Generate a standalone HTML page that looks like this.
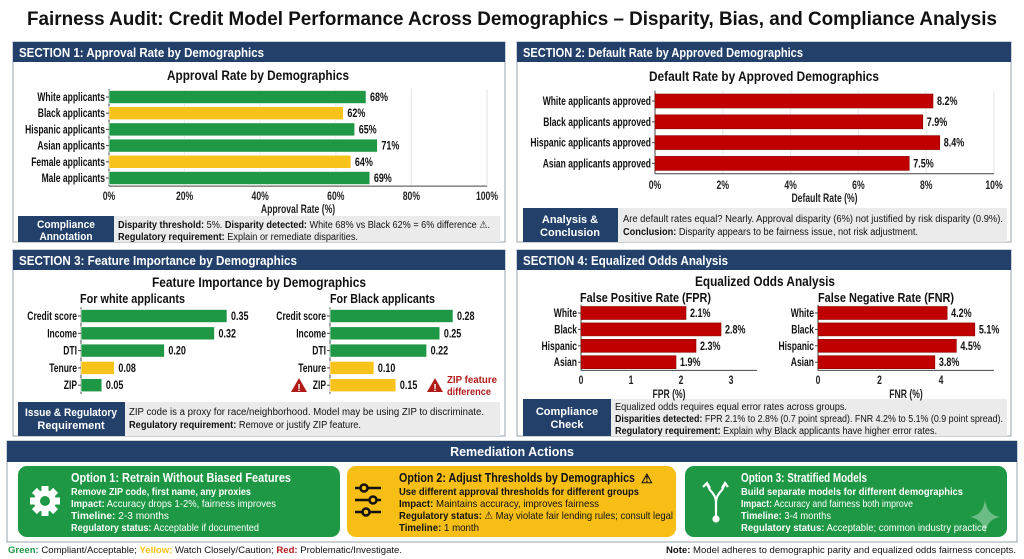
<!DOCTYPE html>
<html><head><meta charset="utf-8"><style>
html,body{margin:0;padding:0;background:#fff;}
svg{display:block;font-family:"Liberation Sans",sans-serif;}
.b{font-weight:bold;}
</style></head><body>
<svg id="root" width="1024" height="559" viewBox="0 0 1024 559" xmlns="http://www.w3.org/2000/svg">
<rect width="1024" height="559" fill="#fff"/>
<text x="512" y="25" text-anchor="middle" class="b" font-size="19" fill="#111" textLength="970" lengthAdjust="spacingAndGlyphs">Fairness Audit: Credit Model Performance Across Demographics – Disparity, Bias, and Compliance Analysis</text>

<g>
<rect x="13" y="42" width="492" height="200" fill="#fff" stroke="#9aa3ad"/>
<rect x="13" y="42" width="492" height="20" fill="#22406a"/>
<text x="19" y="57" fill="#fff" class="b" font-size="13" textLength="245" lengthAdjust="spacingAndGlyphs">SECTION 1: Approval Rate by Demographics</text>
<text x="258" y="80" text-anchor="middle" class="b" font-size="13.5" fill="#111" textLength="182" lengthAdjust="spacingAndGlyphs">Approval Rate by Demographics</text>
<rect x="18" y="216" width="96" height="26" fill="#22406a"/>
<text x="66" y="228" text-anchor="middle" fill="#fff" class="b" font-size="11" textLength="58" lengthAdjust="spacingAndGlyphs">Compliance</text>
<text x="66" y="240" text-anchor="middle" fill="#fff" class="b" font-size="11" textLength="53" lengthAdjust="spacingAndGlyphs">Annotation</text>
<rect x="114" y="216" width="386" height="26" fill="#ebebeb"/>
<text x="118" y="228" font-size="10" fill="#111" textLength="372" lengthAdjust="spacingAndGlyphs"><tspan class="b">Disparity threshold:</tspan> 5%. <tspan class="b">Disparity detected:</tspan> White 68% vs Black 62% = 6% difference ⚠.</text>
<text x="118" y="240" font-size="10" fill="#111" textLength="240" lengthAdjust="spacingAndGlyphs"><tspan class="b">Regulatory requirement:</tspan> Explain or remediate disparities.</text>
</g>

<g>
<rect x="517" y="42" width="494" height="200" fill="#fff" stroke="#9aa3ad"/>
<rect x="517" y="42" width="494" height="20" fill="#22406a"/>
<text x="523" y="57" fill="#fff" class="b" font-size="13" textLength="280" lengthAdjust="spacingAndGlyphs">SECTION 2: Default Rate by Approved Demographics</text>
<text x="764" y="81" text-anchor="middle" class="b" font-size="13.5" fill="#111" textLength="230" lengthAdjust="spacingAndGlyphs">Default Rate by Approved Demographics</text>
<rect x="523" y="208" width="95" height="34" fill="#22406a"/>
<text x="570" y="223" text-anchor="middle" fill="#fff" class="b" font-size="11">Analysis &amp;</text>
<text x="570" y="236" text-anchor="middle" fill="#fff" class="b" font-size="11">Conclusion</text>
<rect x="618" y="208" width="389" height="34" fill="#ebebeb"/>
<text x="623" y="222" font-size="10" fill="#111" textLength="380" lengthAdjust="spacingAndGlyphs">Are default rates equal? Nearly. Approval disparity (6%) not justified by risk disparity (0.9%).</text>
<text x="623" y="235" font-size="10" fill="#111" textLength="295" lengthAdjust="spacingAndGlyphs"><tspan class="b">Conclusion:</tspan> Disparity appears to be fairness issue, not risk adjustment.</text>
</g>

<g>
<rect x="13" y="250" width="492" height="186" fill="#fff" stroke="#9aa3ad"/>
<rect x="13" y="250" width="492" height="20" fill="#22406a"/>
<text x="19" y="265" fill="#fff" class="b" font-size="13" textLength="278" lengthAdjust="spacingAndGlyphs">SECTION 3: Feature Importance by Demographics</text>
<text x="259" y="287" text-anchor="middle" class="b" font-size="13.5" fill="#111" textLength="214" lengthAdjust="spacingAndGlyphs">Feature Importance by Demographics</text>
<text x="80" y="303" class="b" font-size="12.5" fill="#111" textLength="105" lengthAdjust="spacingAndGlyphs">For white applicants</text>
<text x="330" y="303" class="b" font-size="12.5" fill="#111" textLength="105" lengthAdjust="spacingAndGlyphs">For Black applicants</text>
<g><polygon points="299,378 291,392 307,392" fill="#b31b1b"/><text x="299" y="391" text-anchor="middle" fill="#fff" class="b" font-size="10">!</text></g>
<g><polygon points="435,378 427,392 443,392" fill="#b31b1b"/><text x="435" y="391" text-anchor="middle" fill="#fff" class="b" font-size="10">!</text></g>
<text x="447" y="383" class="b" font-size="10.5" fill="#b31b1b" textLength="50" lengthAdjust="spacingAndGlyphs">ZIP feature</text>
<text x="447" y="395" class="b" font-size="10.5" fill="#b31b1b" textLength="44" lengthAdjust="spacingAndGlyphs">difference</text>
<rect x="18" y="402" width="107" height="34" fill="#22406a"/>
<text x="71" y="416" text-anchor="middle" fill="#fff" class="b" font-size="11" textLength="92" lengthAdjust="spacingAndGlyphs">Issue &amp; Regulatory</text>
<text x="71" y="429" text-anchor="middle" fill="#fff" class="b" font-size="11">Requirement</text>
<rect x="125" y="402" width="375" height="34" fill="#ebebeb"/>
<text x="129" y="415" font-size="10" fill="#111" textLength="355" lengthAdjust="spacingAndGlyphs">ZIP code is a proxy for race/neighborhood. Model may be using ZIP to discriminate.</text>
<text x="129" y="428" font-size="10" fill="#111" textLength="232" lengthAdjust="spacingAndGlyphs"><tspan class="b">Regulatory requirement:</tspan> Remove or justify ZIP feature.</text>
</g>

<g>
<rect x="517" y="250" width="494" height="186" fill="#fff" stroke="#9aa3ad"/>
<rect x="517" y="250" width="494" height="20" fill="#22406a"/>
<text x="523" y="265" fill="#fff" class="b" font-size="13" textLength="205" lengthAdjust="spacingAndGlyphs">SECTION 4: Equalized Odds Analysis</text>
<text x="765" y="286" text-anchor="middle" class="b" font-size="13.5" fill="#111" textLength="140" lengthAdjust="spacingAndGlyphs">Equalized Odds Analysis</text>
<text x="580" y="302" class="b" font-size="12.5" fill="#111" textLength="131" lengthAdjust="spacingAndGlyphs">False Positive Rate (FPR)</text>
<text x="818" y="302" class="b" font-size="12.5" fill="#111" textLength="136" lengthAdjust="spacingAndGlyphs">False Negative Rate (FNR)</text>
<rect x="523" y="399" width="88" height="37" fill="#22406a"/>
<text x="567" y="415" text-anchor="middle" fill="#fff" class="b" font-size="11">Compliance</text>
<text x="567" y="428" text-anchor="middle" fill="#fff" class="b" font-size="11">Check</text>
<rect x="611" y="399" width="396" height="37" fill="#ebebeb"/>
<text x="615" y="410" font-size="10" fill="#111" textLength="232" lengthAdjust="spacingAndGlyphs">Equalized odds requires equal error rates across groups.</text>
<text x="615" y="422" font-size="10" fill="#111" textLength="388" lengthAdjust="spacingAndGlyphs"><tspan class="b">Disparities detected:</tspan> FPR 2.1% to 2.8% (0.7 point spread). FNR 4.2% to 5.1% (0.9 point spread).</text>
<text x="615" y="434" font-size="10" fill="#111" textLength="322" lengthAdjust="spacingAndGlyphs"><tspan class="b">Regulatory requirement:</tspan> Explain why Black applicants have higher error rates.</text>
</g>

<g>
<rect x="7" y="441" width="1010" height="101" fill="#fff" stroke="#9aa3ad"/>
<rect x="7" y="441" width="1010" height="21" fill="#22406a"/>
<text x="512" y="456" text-anchor="middle" fill="#fff" class="b" font-size="12.5">Remediation Actions</text>
</g>
<g>
<rect x="18" y="466" width="322" height="71" rx="9" fill="#1e9845"/>
<g transform="translate(45,501)">
<g fill="#fff"><rect x="-3.5" y="-15" width="7" height="30"/><rect x="-3.5" y="-15" width="7" height="30" transform="rotate(45)"/><rect x="-3.5" y="-15" width="7" height="30" transform="rotate(90)"/><rect x="-3.5" y="-15" width="7" height="30" transform="rotate(135)"/><circle r="11"/></g><circle r="5" fill="#1e9845"/></g>
<g fill="#fff" font-size="10.5">
<text x="71" y="482" class="b" font-size="12.5" textLength="220" lengthAdjust="spacingAndGlyphs">Option 1: Retrain Without Biased Features</text>
<text x="71" y="495" class="b" textLength="180" lengthAdjust="spacingAndGlyphs">Remove ZIP code, first name, any proxies</text>
<text x="71" y="507" textLength="205" lengthAdjust="spacingAndGlyphs"><tspan class="b">Impact:</tspan> Accuracy drops 1-2%, fairness improves</text>
<text x="71" y="519" textLength="98" lengthAdjust="spacingAndGlyphs"><tspan class="b">Timeline:</tspan> 2-3 months</text>
<text x="71" y="531" textLength="188" lengthAdjust="spacingAndGlyphs"><tspan class="b">Regulatory status:</tspan> Acceptable if documented</text>
</g></g>
<g>
<rect x="347" y="466" width="329" height="71" rx="9" fill="#f7bf16"/>
<g stroke="#111" stroke-width="2.5" fill="#f7bf16">
<line x1="355" y1="488" x2="381" y2="488"/><circle cx="364" cy="488" r="3.5"/>
<line x1="355" y1="500" x2="381" y2="500"/><circle cx="373" cy="500" r="3.5"/>
<line x1="355" y1="512" x2="381" y2="512"/><circle cx="366" cy="512" r="3.5"/></g>
<g fill="#111" font-size="10.5">
<text x="399" y="482" class="b" font-size="12.5" textLength="236" lengthAdjust="spacingAndGlyphs">Option 2: Adjust Thresholds by Demographics</text>
<text x="641" y="483" font-size="13" class="b">⚠</text>
<text x="399" y="495" class="b" textLength="240" lengthAdjust="spacingAndGlyphs">Use different approval thresholds for different groups</text>
<text x="399" y="507" textLength="200" lengthAdjust="spacingAndGlyphs"><tspan class="b">Impact:</tspan> Maintains accuracy, improves fairness</text>
<text x="399" y="519" textLength="274" lengthAdjust="spacingAndGlyphs"><tspan class="b">Regulatory status:</tspan> ⚠ May violate fair lending rules; consult legal</text>
<text x="399" y="531" textLength="80" lengthAdjust="spacingAndGlyphs"><tspan class="b">Timeline:</tspan> 1 month</text>
</g></g>
<g>
<rect x="685" y="466" width="322" height="71" rx="9" fill="#1e9845"/>
<g stroke="#fff" stroke-width="2.2" fill="none">
<path d="M716 517 L716 502 Q716 496 710 490 L707 484"/><path d="M716 502 Q716 496 722 490 L725 484"/>
<path d="M703 487 L707 483 L710 488"/><path d="M722 488 L725 483 L728 487"/><circle cx="716" cy="519" r="2.5" fill="#fff"/></g>
<g fill="#fff" font-size="10.5">
<text x="741" y="482" class="b" font-size="12.5" textLength="126" lengthAdjust="spacingAndGlyphs">Option 3: Stratified Models</text>
<text x="741" y="495" class="b" textLength="222" lengthAdjust="spacingAndGlyphs">Build separate models for different demographics</text>
<text x="741" y="507" textLength="172" lengthAdjust="spacingAndGlyphs"><tspan class="b">Impact:</tspan> Accuracy and fairness both improve</text>
<text x="741" y="519" textLength="90" lengthAdjust="spacingAndGlyphs"><tspan class="b">Timeline:</tspan> 3-4 months</text>
<text x="741" y="531" textLength="246" lengthAdjust="spacingAndGlyphs"><tspan class="b">Regulatory status:</tspan> Acceptable; common industry practice</text>
</g>
<path d="M985 500 Q987 515 1000 517 Q987 519 985 534 Q983 519 970 517 Q983 515 985 500Z" fill="#fff" opacity="0.35"/>
</g>
<text x="8" y="553" font-size="9.5" fill="#111" textLength="394" lengthAdjust="spacingAndGlyphs"><tspan class="b" fill="#1e9845">Green:</tspan> Compliant/Acceptable; <tspan class="b" fill="#f7bf16">Yellow:</tspan> Watch Closely/Caution; <tspan class="b" fill="#b31b1b">Red:</tspan> Problematic/Investigate.</text>
<text x="1016" y="553" text-anchor="end" font-size="9.5" fill="#111" textLength="350" lengthAdjust="spacingAndGlyphs"><tspan class="b">Note:</tspan> Model adheres to demographic parity and equalized odds fairness concepts.</text>
<g id="charts"></g>
</svg>
<script>
// Chart 1: approval rate
const approvalCategories = ["White applicants","Black applicants","Hispanic applicants","Asian applicants","Female applicants","Male applicants"];
const approvalValues = [68,62,65,71,64,69];
const approvalStatus = ["g","y","g","g","y","g"];
const approvalTicks = [0,20,40,60,80,100];
// Chart 2: default rate
const defaultCategories = ["White applicants approved","Black applicants approved","Hispanic applicants approved","Asian applicants approved"];
const defaultValues = [8.2,7.9,8.4,7.5];
const defaultTicks = [0,2,4,6,8,10];
// Chart 3: feature importance
const featureCategories = ["Credit score","Income","DTI","Tenure","ZIP"];
const whiteImportance = [0.35,0.32,0.20,0.08,0.05];
const whiteStatus = ["g","g","g","y","g"];
const blackImportance = [0.28,0.25,0.22,0.10,0.15];
const blackStatus = ["g","g","g","y","y"];
// Chart 4: equalized odds
const oddsCategories = ["White","Black","Hispanic","Asian"];
const fprValues = [2.1,2.8,2.3,1.9];
const fnrValues = [4.2,5.1,4.5,3.8];
const fprTicks = [0,1,2,3];
const fnrTicks = [0,2,4];

const NS="http://www.w3.org/2000/svg";
const root=document.getElementById("charts");
const COL={g:"#1e9845",y:"#f7c21a",r:"#c00000"};
function mk(tag,attrs,parent){const e=document.createElementNS(NS,tag);for(const k in attrs)e.setAttribute(k,attrs[k]);(parent||root).appendChild(e);return e;}
function condense(el,f){try{const w=el.getComputedTextLength();if(w>0){el.setAttribute("textLength",(w*f).toFixed(1));el.setAttribute("lengthAdjust","spacingAndGlyphs");}}catch(e){}}

function chart(cfg){
  const g=mk("g",{});
  
  
  const xs=v=>cfg.x0+(v-cfg.min)/(cfg.max-cfg.min)*(cfg.x1-cfg.x0);
  const ys=i=>cfg.y0+i*cfg.step;
  const top=ys(0)-cfg.step/2, bot=ys(cfg.cats.length-1)+cfg.step/2;
  if(cfg.ticks){
    cfg.ticks.forEach(t=>{
      if(cfg.grid) mk("line",{x1:xs(t),x2:xs(t),y1:top,y2:bot,stroke:"#e6e6e6","stroke-width":1},g);
      const tl=mk("text",{x:xs(t),y:cfg.tickY,"text-anchor":"middle","font-size":11.5,"font-weight":"bold",fill:"#222"},g);
      
      
      tl.textContent=t+(cfg.tickSuffix||"");
      condense(tl,0.75);
    });
    mk("line",{x1:cfg.x0,x2:cfg.axisEnd||cfg.x1,y1:bot,y2:bot,stroke:"#444","stroke-width":1},g);
    const at=mk("text",{x:(cfg.x0+(cfg.axisEnd||cfg.x1))/2,y:cfg.titleY,"text-anchor":"middle","font-size":11.5,"font-weight":"bold",fill:"#222"},g);
    
    
    at.textContent=cfg.axisTitle;
    condense(at,0.75);
  }
  mk("line",{x1:cfg.x0,x2:cfg.x0,y1:top,y2:bot,stroke:"#444","stroke-width":1},g);
  cfg.cats.forEach((c,i)=>{
    const y=ys(i),v=cfg.vals[i];
    const col=COL[cfg.status?cfg.status[i]:"r"];
    const bar=mk("rect",{x:cfg.x0,y:y-cfg.bh/2,width:xs(v)-cfg.x0,height:cfg.bh,fill:col,stroke:cfg.status?"#fff":"#8a0000","stroke-width":0.6},g);
    
    
    mk("line",{x1:cfg.x0-3,x2:cfg.x0,y1:y,y2:y,stroke:"#444"},g);
    const lb=mk("text",{x:cfg.x0-4,y:y+4,"text-anchor":"end","font-size":11.5,"font-weight":"bold",fill:"#111"},g);
    
    
    lb.textContent=c;
    condense(lb,0.74);
    const vl=mk("text",{x:xs(v)+4,y:y+4,"font-size":11.5,"font-weight":"bold",fill:"#111"},g);
    
    
    vl.textContent=cfg.fmt(v);
    condense(vl,0.78);
  });
}
chart({name:"approval-rate-chart",cats:approvalCategories,vals:approvalValues,status:approvalStatus,min:0,max:100,x0:109,x1:487,y0:97,step:16.2,bh:13,ticks:approvalTicks,tickSuffix:"%",tickY:200,titleY:213,axisTitle:"Approval Rate (%)",grid:true,fmt:v=>v+"%"});
chart({name:"default-rate-chart",cats:defaultCategories,vals:defaultValues,min:0,max:10,x0:655,x1:994,y0:101,step:20.8,bh:14,ticks:defaultTicks,tickSuffix:"%",tickY:189,titleY:202,axisTitle:"Default Rate (%)",grid:true,fmt:v=>v.toFixed(1)+"%"});
chart({name:"feature-importance-white-chart",cats:featureCategories,vals:whiteImportance,status:whiteStatus,min:0,max:0.35,x0:81,x1:227,y0:316,step:17.3,bh:13,fmt:v=>v.toFixed(2)});
chart({name:"feature-importance-black-chart",cats:featureCategories,vals:blackImportance,status:blackStatus,min:0,max:0.28,x0:330,x1:453,y0:316,step:17.3,bh:13,fmt:v=>v.toFixed(2)});
chart({name:"fpr-chart",cats:oddsCategories,vals:fprValues,min:0,max:3,x0:581,x1:731,axisEnd:757,y0:313,step:16.4,bh:13,ticks:fprTicks,tickY:384,titleY:398,axisTitle:"FPR (%)",fmt:v=>v.toFixed(1)+"%"});
chart({name:"fnr-chart",cats:oddsCategories,vals:fnrValues,min:0,max:4,x0:818,x1:941,axisEnd:994,y0:313,step:16.4,bh:13,ticks:fnrTicks,tickY:384,titleY:398,axisTitle:"FNR (%)",fmt:v=>v.toFixed(1)+"%"});
</script>
</body></html>
